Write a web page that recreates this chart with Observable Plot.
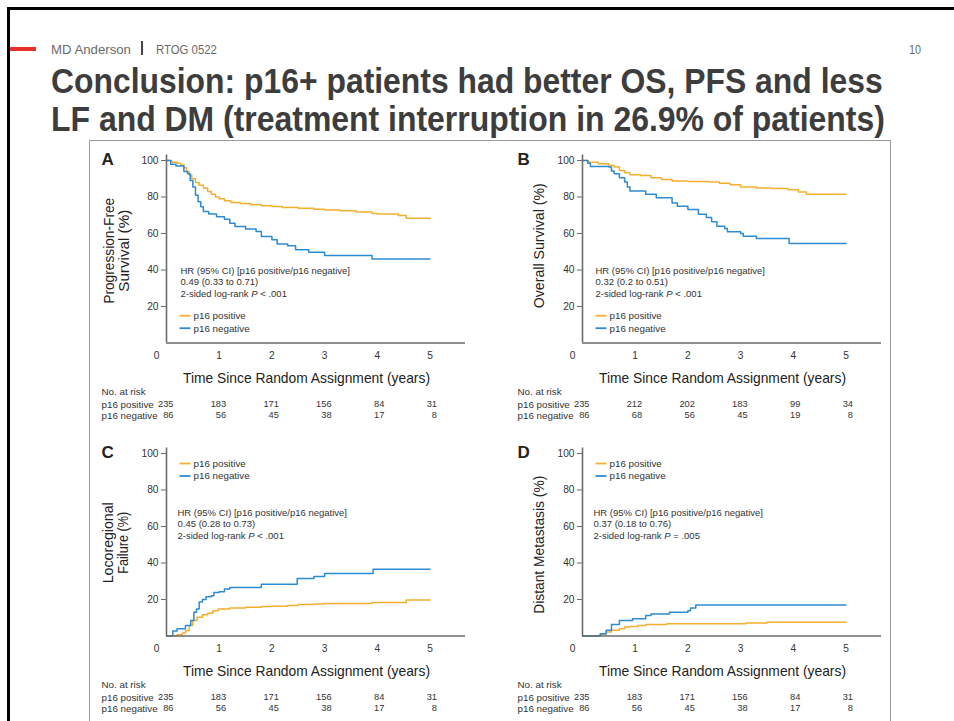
<!DOCTYPE html>
<html><head><meta charset="utf-8">
<script src="https://cdn.jsdelivr.net/npm/d3@7"></script>
<script src="https://cdn.jsdelivr.net/npm/@observablehq/plot@0.6"></script>
<style>
body{margin:0;background:#fff;}
#slide{position:relative;width:954px;height:721px;overflow:hidden;background:#fff;font-family:"Liberation Sans",Arial,sans-serif;}
.abs{position:absolute;}
</style></head><body><div id="slide"></div>
<script>
// ---------------- data ----------------
const groups = ["p16 positive", "p16 negative"];
const colors = ["#f3b02f", "#2c8bd3"];
const xTicks = [1, 2, 3, 4, 5];
const yTicks = [20, 40, 60, 80, 100];
const riskYears = [0, 1, 2, 3, 4, 5];
const riskPos = [235, 183, 171, 156, 84, 31];
const riskNeg = [86, 56, 45, 38, 17, 8];
const riskPosOS = [235, 212, 202, 183, 99, 34];
const riskNegOS = [86, 68, 56, 45, 19, 8];

const pfsPos = [[0,100],[0.1,99],[0.2,98.5],[0.27,97.5],[0.33,96],[0.38,94],[0.43,92],[0.48,90],[0.55,88],[0.62,86.5],[0.7,85],[0.78,83],[0.85,81.5],[0.93,80],[1.0,79],[1.1,78],[1.22,77],[1.4,76.5],[1.6,75.7],[1.8,75.2],[2.0,74.8],[2.2,74.3],[2.5,73.8],[2.8,73.3],[3.0,72.9],[3.3,72.4],[3.6,71.8],[3.9,71],[4.0,70.7],[4.4,69.8],[4.55,68.3],[5.0,68]];
const pfsNeg = [[0,100],[0.08,98],[0.18,97],[0.33,94],[0.4,92.8],[0.45,89],[0.5,85.5],[0.55,81],[0.6,77.4],[0.65,74.7],[0.7,72],[0.8,70.7],[0.95,69.2],[1.1,67.8],[1.2,65.6],[1.3,63.8],[1.5,62.4],[1.7,61.1],[1.8,58.4],[2.0,56.6],[2.1,54.2],[2.3,53.3],[2.45,51.1],[2.7,49.7],[3.0,48],[3.9,46],[5.0,46]];
const osPos = [[0,100],[0.11,99],[0.3,98.2],[0.5,97.3],[0.6,96.4],[0.7,94.5],[0.8,93.3],[0.9,92.2],[1.1,91.8],[1.3,90.5],[1.5,89.6],[1.7,88.7],[2.0,88.5],[2.4,88.2],[2.6,87.6],[2.8,86.7],[3.0,85.5],[3.3,84.9],[3.6,84.7],[3.9,84],[4.1,82.7],[4.25,81.5],[5.0,81.5]];
const osNeg = [[0,100],[0.1,98.5],[0.15,96.7],[0.5,96.4],[0.55,94.2],[0.6,92.7],[0.7,90.5],[0.8,88.2],[0.85,85.5],[0.9,83.3],[1.2,81.5],[1.4,79.6],[1.7,76.7],[1.8,74.9],[2.0,73.1],[2.2,70.5],[2.35,68.7],[2.45,66.4],[2.55,64],[2.7,62.7],[2.75,60.9],[3.0,60],[3.05,58.5],[3.3,57.3],[3.92,54.5],[5.0,54.5]];
const lrfPos = [[0,0],[0.2,0.7],[0.3,1.6],[0.36,3],[0.43,5.8],[0.5,8.5],[0.58,10.3],[0.68,11.6],[0.78,12.5],[0.88,13.9],[0.98,14.8],[1.2,15.4],[1.5,15.7],[1.8,16.1],[2.0,16.3],[2.3,16.7],[2.5,17.2],[2.8,17.6],[3.0,17.8],[3.9,18.3],[4.55,19.7],[5.0,19.7]];
const lrfNeg = [[0,0],[0.12,2.7],[0.2,4],[0.36,5.8],[0.46,8.5],[0.52,13],[0.57,14.8],[0.62,18.6],[0.68,20],[0.75,21.5],[0.85,22],[0.9,23.9],[1.0,24.3],[1.1,25.7],[1.2,26.6],[1.8,28.4],[2.48,31.5],[2.8,32.6],[3.0,34.2],[3.92,36.6],[5.0,36.6]];
const dmPos = [[0,0],[0.33,0.9],[0.45,2.2],[0.55,3.1],[0.7,4],[0.8,4.9],[0.9,5.2],[1.05,5.8],[1.2,6.3],[1.6,6.7],[3.1,7.1],[3.5,7.6],[5.0,7.6]];
const dmNeg = [[0,0],[0.34,1.3],[0.45,3.1],[0.55,6.3],[0.7,8.5],[0.95,9.4],[1.2,11.2],[1.3,12.1],[1.65,13],[2.0,13.9],[2.05,15.4],[2.15,17],[5.0,17]];

const hrA = "HR (95% CI) [p16 positive/p16 negative]\n0.49 (0.33 to 0.71)\n2-sided log-rank P < .001";
const hrB = "HR (95% CI) [p16 positive/p16 negative]\n0.32 (0.2 to 0.51)\n2-sided log-rank P < .001";
const hrC = "HR (95% CI) [p16 positive/p16 negative]\n0.45 (0.28 to 0.73)\n2-sided log-rank P < .001";
const hrD = "HR (95% CI) [p16 positive/p16 negative]\n0.37 (0.18 to 0.76)\n2-sided log-rank P = .005";
const xLabel = "Time Since Random Assignment (years)";

// ---------------- slide chrome ----------------
const slide = document.getElementById("slide");
function div(style) { const d = document.createElement("div"); d.className = "abs"; Object.assign(d.style, style); slide.appendChild(d); return d; }
div({left: "7px", top: "7px", width: "960px", height: "3px", background: "#000"});
div({left: "7px", top: "7px", width: "3px", height: "730px", background: "#000"});
div({left: "10px", top: "47px", width: "26px", height: "4px", background: "#e8312a"});
div({left: "89px", top: "140px", width: "800px", height: "620px", border: "1.5px solid #9c9c9c"});

const hdr = d3.select(slide).append("svg").attr("class", "abs").style("left", "0px").style("top", "0px")
  .attr("width", 954).attr("height", 140).attr("font-family", '"Liberation Sans",Arial,sans-serif');
// text squeezed horizontally to the reference's condensed width
function htext(x, y, size, fill, str, len, bold) {
  const t = hdr.append("text").attr("x", 0).attr("y", 0).attr("font-size", size).attr("fill", fill).text(str);
  if (bold) t.attr("font-weight", "bold");
  const w = t.node().getComputedTextLength();
  const sx = len && w > 0 ? len / w : 1;
  t.attr("transform", `translate(${x},${y}) scale(${sx},1)`);
  return t;
}
htext(51, 54, 13.5, "#6a6a6a", "MD Anderson", 80);
hdr.append("rect").attr("x", 141).attr("y", 41).attr("width", 2).attr("height", 14).attr("fill", "#444");
htext(156, 54, 13.5, "#6a6a6a", "RTOG 0522", 61);
htext(909, 54, 13.5, "#6a6a6a", "10", 12);
htext(51, 93, 35, "#3d3d3d", "Conclusion: p16+ patients had better OS, PFS and less", 832, true);
htext(51, 131, 35, "#3d3d3d", "LF and DM (treatment interruption in 26.9% of patients)", 834, true);

// ---------------- panels ----------------
const W = 410, H = 290, ML = 86, MR = 25, MT = 20, MB = 87.5, PXYR = 52.7;

function legendMark(cy) {
  return (index, scales, values, dims) => {
    const g = d3.create("svg:g");
    groups.forEach((name, i) => {
      const y = cy + i * 12.5;
      g.append("line").attr("x1", 99.5).attr("x2", 110.5).attr("y1", y).attr("y2", y)
        .attr("stroke", colors[i]).attr("stroke-width", 1.8);
      g.append("text").attr("x", 113.5).attr("y", y).attr("dy", "0.35em").attr("font-size", 9.8)
        .attr("text-anchor", "start").attr("fill", "#333").text(name);
    });
    return g.node();
  };
}

function fit(svg, str, len) {
  svg.querySelectorAll("text, tspan").forEach(el => {
    if (el.childElementCount === 0 && el.textContent === str) {
      el.setAttribute("textLength", len);
      el.setAttribute("lengthAdjust", "spacingAndGlyphs");
    }
  });
}

function panel(cfg) {
  const rows = [
    ...cfg.pos.map(([t, v]) => ({t, v, g: groups[0]})),
    ...cfg.neg.map(([t, v]) => ({t, v, g: groups[1]}))
  ];
  const svg = Plot.plot({
    width: W, height: H, marginLeft: ML, marginRight: MR, marginTop: MT, marginBottom: MB,
    x: {domain: [0, (W - ML - MR) / PXYR], axis: null},
    y: {domain: [0, 100], ticks: yTicks, tickSize: 5, tickPadding: 3, label: null, tickFormat: d => String(d)},
    color: {domain: groups, range: colors},
    style: {fontFamily: '"Liberation Sans",Arial,sans-serif', fontSize: "10.2px", color: "#333", background: "transparent", overflow: "visible"},
    marks: [
      Plot.line(rows, {x: "t", y: "v", stroke: "g", curve: "step-after", strokeWidth: 1.5}),
      Plot.ruleY([0], {stroke: "#6b6b6b", strokeWidth: 1.6}),
      Plot.ruleX([0], {y1: 0, y2: 103, stroke: "#6b6b6b", strokeWidth: 1.6}),
      Plot.text(xTicks, {x: d => d, frameAnchor: "bottom", dy: 12.5, lineAnchor: "middle", fontSize: 10.2, fill: "#333"}),
      Plot.text(["0"], {frameAnchor: "bottom-left", dx: -10, dy: 12.5, textAnchor: "middle", lineAnchor: "middle", fontSize: 10.2, fill: "#333"}),
      Plot.text([cfg.letter], {frameAnchor: "top-left", dx: 21 - ML, dy: 4, textAnchor: "start", lineAnchor: "bottom", fontSize: 17, fontWeight: "bold", fill: "#222"}),
      Plot.text([cfg.ylabel], {frameAnchor: "left", rotate: -90, dx: cfg.ylx - ML, dy: cfg.yly, textAnchor: "middle", lineAnchor: "middle", lineHeight: 1.05, fontSize: 15, fill: "#222"}),
      Plot.text([xLabel], {frameAnchor: "bottom-left", dx: 226 - ML, dy: 39.5, textAnchor: "middle", lineAnchor: "bottom", fontSize: 15, fill: "#222"}),
      Plot.text([cfg.hr], {frameAnchor: "top-left", dx: cfg.hrx - ML, dy: cfg.hry, textAnchor: "start", lineAnchor: "middle", lineHeight: 1.2, fontSize: 9.5, fill: "#333"}),
      legendMark(cfg.legY),
      Plot.text(["No. at risk"], {frameAnchor: "bottom-left", dx: 21 - ML, dy: 49, textAnchor: "start", lineAnchor: "middle", fontSize: 9.8, fill: "#333"}),
      Plot.text([groups[0]], {frameAnchor: "bottom-left", dx: 21 - ML, dy: 61.5, textAnchor: "start", lineAnchor: "middle", fontSize: 9.8, fill: "#333"}),
      Plot.text([groups[1]], {frameAnchor: "bottom-left", dx: 21 - ML, dy: 72.5, textAnchor: "start", lineAnchor: "middle", fontSize: 9.8, fill: "#333"}),
      Plot.text(riskYears, {x: d => d, text: (d, i) => cfg.riskPos[i], frameAnchor: "bottom", dx: 7, dy: 61.5, textAnchor: "end", lineAnchor: "middle", fontSize: 9.3, fill: "#333"}),
      Plot.text(riskYears, {x: d => d, text: (d, i) => cfg.riskNeg[i], frameAnchor: "bottom", dx: 7, dy: 72.5, textAnchor: "end", lineAnchor: "middle", fontSize: 9.3, fill: "#333"})
    ]
  });
  svg.querySelectorAll("[aria-label='y-axis tick'] path").forEach(p => p.setAttribute("stroke", "#6b6b6b"));
  // italic P in log-rank line
  svg.querySelectorAll("tspan, text").forEach(el => {
    if (el.childElementCount === 0 && /log-rank P/.test(el.textContent)) {
      const rest = el.textContent.split("log-rank P")[1];
      el.textContent = "2-sided log-rank ";
      const it = document.createElementNS("http://www.w3.org/2000/svg", "tspan");
      it.setAttribute("font-style", "italic");
      it.textContent = "P";
      el.appendChild(it);
      el.appendChild(document.createTextNode(rest));
    }
  });
  fit(svg, xLabel, 247);
  cfg.fits.forEach(([s, l]) => fit(svg, s, l));
  svg.style.position = "absolute";
  svg.style.left = cfg.left + "px";
  svg.style.top = cfg.top + "px";
  slide.appendChild(svg);
  return svg;
}

panel({letter: "A", left: 80, top: 140, pos: pfsPos, neg: pfsNeg, riskPos, riskNeg,
  ylabel: "Progression-Free\nSurvival (%)", ylx: 36, yly: -1, hr: hrA, hrx: 100, hry: 121, legY: 175.7,
  fits: [["Progression-Free", 106], ["Survival (%)", 82]]});
panel({letter: "B", left: 496, top: 140, pos: osPos, neg: osNeg, riskPos: riskPosOS, riskNeg: riskNegOS,
  ylabel: "Overall Survival (%)", ylx: 42, yly: -6, hr: hrB, hrx: 99, hry: 121, legY: 175.7,
  fits: [["Overall Survival (%)", 125]]});
panel({letter: "C", left: 80, top: 433, pos: lrfPos, neg: lrfNeg, riskPos, riskNeg,
  ylabel: "Locoregional\nFailure (%)", ylx: 35, yly: -2, hr: hrC, hrx: 97, hry: 70, legY: 30.5,
  fits: [["Locoregional", 81], ["Failure (%)", 62]]});
panel({letter: "D", left: 496, top: 433, pos: dmPos, neg: dmNeg, riskPos, riskNeg,
  ylabel: "Distant Metastasis (%)", ylx: 42, yly: 0, hr: hrD, hrx: 97, hry: 70, legY: 30.5,
  fits: [["Distant Metastasis (%)", 138]]});
</script>
</body></html>
